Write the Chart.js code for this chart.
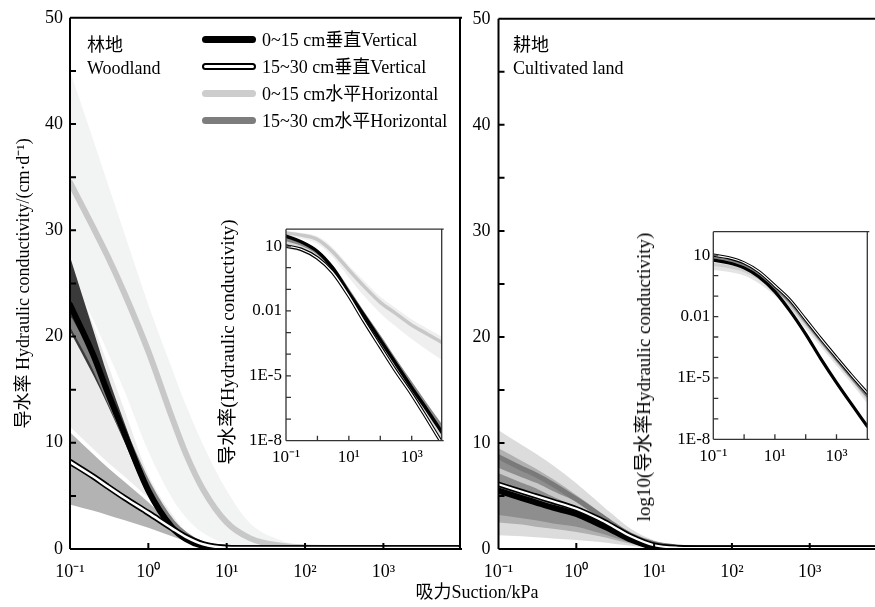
<!DOCTYPE html>
<html><head><meta charset="utf-8">
<script src="https://cdn.jsdelivr.net/npm/chart.js@4.4.1/dist/chart.umd.min.js"></script>
<style>
html,body{margin:0;padding:0;background:#fff;}
body{width:875px;height:607px;position:relative;overflow:hidden;font-family:'Liberation Serif','Times New Roman','Noto Sans CJK SC',serif;color:#000;}
canvas{position:absolute;}
.t{position:absolute;font-size:18px;white-space:nowrap;line-height:23.5px;}
.lg{position:absolute;left:202px;width:54px;height:7px;border-radius:4px;box-sizing:border-box;}
.lt{position:absolute;left:262px;font-size:18px;white-space:nowrap;line-height:20px;}
.rot{position:absolute;white-space:nowrap;font-size:19px;line-height:20px;transform:translate(-50%,-50%) rotate(-90deg);}
</style></head>
<body>
<canvas id="mainL" width="470" height="607" style="left:0;top:0"></canvas>
<canvas id="mainR" width="413" height="607" style="left:462px;top:0"></canvas>
<canvas id="insL" width="210" height="255" style="left:240px;top:215px"></canvas>
<canvas id="insR" width="210" height="255" style="left:665px;top:218px"></canvas>

<div class="t" style="left:87px;top:33.5px">林地<br>Woodland</div>
<div class="t" style="left:513px;top:33.5px">耕地<br>Cultivated land</div>

<div class="lg" style="top:36px;background:#000"></div>
<div class="lt" style="top:29.5px">0~15 cm垂直Vertical</div>
<div class="lg" style="top:63px;background:#fff;border:2px solid #000"></div>
<div class="lt" style="top:56.5px">15~30 cm垂直Vertical</div>
<div class="lg" style="top:90px;background:#cdcdcd"></div>
<div class="lt" style="top:83.5px">0~15 cm水平Horizontal</div>
<div class="lg" style="top:117px;background:#7d7d7d"></div>
<div class="lt" style="top:110.5px">15~30 cm水平Horizontal</div>

<div class="t" style="left:477px;top:593px;transform:translate(-50%,-50%)">吸力Suction/kPa</div>
<div class="rot" style="left:228px;top:342px">导水率(Hydraulic conductivity)</div>
<div class="rot" style="left:644px;top:377px">log10(导水率Hydraulic conductivity)</div>

<script>
// ---------- data ----------
const suction = [0.1, 0.2, 0.3, 0.5, 1, 2, 3, 5, 10, 20, 50, 100, 1000, 9000];

// Woodland main panel (cm/d)
const woodV015   = [23, 18.2, 14.8, 10.8, 5.5, 2.05, 0.95, 0.28, 0.1, 0.08, 0.08, 0.08, 0.08, 0.08];
const woodV1530  = [8.2, 6.8, 5.9, 4.8, 3.4, 1.95, 1.15, 0.45, 0.12, 0.08, 0.08, 0.08, 0.08, 0.08];
const woodH015   = [34.5, 30.2, 27.6, 24.0, 18.6, 12.4, 9.0, 5.6, 2.5, 1.0, 0.3, 0.15, 0.08, 0.08];
const woodH1530  = [21.5, 17.4, 14.5, 10.8, 6.0, 2.5, 1.3, 0.42, 0.12, 0.08, 0.08, 0.08, 0.08, 0.08];
const woodV015Hi = [27.5, 20.5, 16.4, 11.8, 6.0, 2.3, 1.1, 0.35, 0.12, 0.08, 0.08, 0.08, 0.08, 0.08];
const woodV015Lo = [20.5, 16.3, 13.6, 10.0, 5.0, 1.8, 0.82, 0.22, 0.08, 0.08, 0.08, 0.08, 0.08, 0.08];
const woodH015Hi = [45, 38.4, 34.5, 29.6, 23.0, 17.0, 13.6, 9.8, 5.5, 2.4, 0.8, 0.3, 0.08, 0.08];
const woodH015Lo = [26, 21.5, 18.6, 14.8, 9.2, 4.8, 3.0, 1.5, 0.5, 0.18, 0.08, 0.08, 0.08, 0.08];
const woodH1530Hi = [27, 21, 17.5, 13, 7, 3.3, 1.7, 0.65, 0.16, 0.08, 0.08, 0.08, 0.08, 0.08];
const woodH1530Lo = [11.5, 9.4, 8.2, 6.8, 4.8, 2.6, 1.55, 0.6, 0.15, 0.08, 0.08, 0.08, 0.08, 0.08];
const woodV1530Hi = [11, 8.9, 7.7, 6.3, 4.4, 2.3, 1.3, 0.5, 0.14, 0.08, 0.08, 0.08, 0.08, 0.08];
const woodV1530Lo = [4.2, 3.6, 3.2, 2.7, 2.0, 1.2, 0.75, 0.3, 0.08, 0.08, 0.08, 0.08, 0.08, 0.08];

// Cultivated land main panel (cm/d)
const cultV015   = [5.5, 4.8, 4.4, 3.9, 3.3, 2.3, 1.7, 0.9, 0.2, 0.1, 0.08, 0.08, 0.08, 0.08];
const cultV1530  = [6.1, 5.4, 5.0, 4.5, 3.8, 2.8, 2.1, 1.2, 0.35, 0.12, 0.08, 0.08, 0.08, 0.08];
const cultH015   = [7.4, 6.5, 6.0, 5.2, 4.2, 3.0, 2.2, 1.3, 0.45, 0.15, 0.08, 0.08, 0.08, 0.08];
const cultH1530  = [8.7, 7.6, 7.0, 6.1, 4.7, 3.2, 2.3, 1.3, 0.5, 0.18, 0.08, 0.08, 0.08, 0.08];
const cultOuterHi = [11.2, 9.8, 9.0, 7.9, 6.2, 4.3, 3.2, 1.9, 0.8, 0.3, 0.1, 0.08, 0.08, 0.08];
const cultOuterLo = [1.3, 1.2, 1.1, 1.0, 0.85, 0.65, 0.5, 0.3, 0.1, 0.08, 0.08, 0.08, 0.08, 0.08];
const cultMidHi   = [9.5, 8.3, 7.6, 6.6, 5.1, 3.5, 2.5, 1.4, 0.55, 0.2, 0.08, 0.08, 0.08, 0.08];
const cultMidLo   = [2.5, 2.3, 2.1, 1.9, 1.6, 1.2, 0.9, 0.5, 0.15, 0.08, 0.08, 0.08, 0.08, 0.08];
const cultInnerHi = [8.5, 7.4, 6.8, 5.9, 4.7, 3.3, 2.4, 1.35, 0.45, 0.15, 0.08, 0.08, 0.08, 0.08];
const cultInnerLo = [3.2, 2.9, 2.7, 2.4, 2.1, 1.5, 1.1, 0.6, 0.15, 0.08, 0.08, 0.08, 0.08, 0.08];

// Insets (log-log)
const suctionIns = [0.1, 0.3, 1, 3, 10, 30, 100, 300, 1000, 3000, 10000];
const insWoodV015  = [28.8, 15.8, 5.6, 1.0, 0.068, 0.0063, 4.5e-4, 4e-5, 2.8e-6, 2.8e-7, 2e-8];
const insWoodV1530 = [10, 7.1, 2.8, 0.63, 0.05, 0.0035, 2.2e-4, 1.8e-5, 1.4e-6, 1.1e-7, 6.3e-9];
const insWoodH015  = [40, 32, 20, 5.6, 0.79, 0.14, 0.025, 0.0079, 0.0022, 0.00089, 0.00032];
const insWoodH1530 = [20, 12.6, 5.0, 1.0, 0.079, 0.0071, 5.6e-4, 5e-5, 4e-6, 4e-7, 3.5e-8];
const insWoodH015Hi = [50, 41, 28.2, 8.9, 1.26, 0.25, 0.045, 0.014, 0.004, 0.0016, 0.0006];
const insWoodH015Lo = [28.2, 22.4, 12.6, 3.16, 0.355, 0.05, 0.0079, 0.002, 5e-4, 1.6e-4, 5e-5];
const insWoodVHi = [32, 18, 6.5, 1.2, 0.085, 0.008, 6e-4, 5.5e-5, 4e-6, 4e-7, 3.5e-8];
const insWoodVLo = [7.5, 5.5, 2.2, 0.5, 0.04, 0.0028, 1.8e-4, 1.5e-5, 1.2e-6, 9e-8, 5e-9];

const insCultV015  = [5.75, 4.27, 2.4, 0.89, 0.166, 0.02, 1.38e-3, 9.3e-5, 5.9e-6, 5.5e-7, 4.3e-8];
const insCultV1530 = [10, 7.6, 4.2, 1.58, 0.32, 0.068, 7.1e-3, 8.9e-4, 1e-4, 1.4e-5, 1.8e-6];
const insCultH1530 = [8.3, 6.3, 3.5, 1.32, 0.26, 0.054, 5.6e-3, 7.1e-4, 7.9e-5, 1.1e-5, 1.3e-6];
const insCultH015  = [3.5, 2.8, 1.78, 0.76, 0.19, 0.038, 4.5e-3, 6.3e-4, 7.1e-5, 1e-5, 1.0e-6];
const insCultH015Hi = [6.3, 5.0, 3.2, 1.37, 0.34, 0.068, 8.1e-3, 1.1e-3, 1.28e-4, 1.8e-5, 1.8e-6];
const insCultH015Lo = [1.9, 1.55, 1.0, 0.42, 0.105, 0.021, 2.5e-3, 3.5e-4, 3.9e-5, 5.6e-6, 5.6e-7];
const insCultH1530Hi = [10.8, 8.2, 4.55, 1.7, 0.34, 0.07, 7.3e-3, 9.2e-4, 1.03e-4, 1.43e-5, 1.7e-6];
const insCultH1530Lo = [6.4, 4.85, 2.7, 1.0, 0.2, 0.042, 4.3e-3, 5.5e-4, 6.1e-5, 8.5e-6, 1.0e-6];

// Tick labels
const mainXTicks  = [0.1, 1, 10, 100, 1000];
const mainXLabels = ['10⁻¹', '10⁰', '10¹', '10²', '10³'];
const mainYLabels = ['0', '10', '20', '30', '40', '50'];
const insXTicks  = [0.1, 1, 10, 100, 1000];
const insXLabels = ['10⁻¹', '', '10¹', '', '10³'];
const insYTicks  = [1e-8, 1e-7, 1e-6, 1e-5, 1e-4, 1e-3, 0.01, 0.1, 1, 10];
const insYLabels = ['1E-8', '', '', '1E-5', '', '', '0.01', '', '', '10'];
const yTitle = '导水率 Hydraulic conductivity/(cm·d⁻¹)';

// ---------- helpers ----------
const FONT = "'Liberation Serif','Times New Roman','Noto Sans CJK SC',serif";
Chart.defaults.font.family = FONT;
Chart.defaults.color = '#000';

function pts(xs, ys) { return xs.map((x, i) => ({x: x, y: ys[i]})); }
function line(xs, ys, color, w) {
  return {data: pts(xs, ys), borderColor: color, backgroundColor: color, borderWidth: w,
    pointRadius: 0, fill: false, cubicInterpolationMode: 'monotone', borderCapStyle: 'round', borderJoinStyle: 'round'};
}
function band(xs, hi, lo, color) {
  return [
    {data: pts(xs, lo), borderWidth: 0, borderColor: 'rgba(0,0,0,0)', pointRadius: 0, fill: false, cubicInterpolationMode: 'monotone'},
    {data: pts(xs, hi), borderWidth: 0, borderColor: 'rgba(0,0,0,0)', backgroundColor: color, pointRadius: 0, fill: '-1', cubicInterpolationMode: 'monotone'}
  ];
}
function ordered(list) { list.forEach((d, i) => { d.order = 1000 - i; }); return list; }

const frame = {
  id: 'frame',
  afterDatasetsDraw(chart, args, o) {
    const ctx = chart.ctx, a = chart.chartArea, xs = chart.scales.x, ys = chart.scales.y;
    ctx.save();
    ctx.strokeStyle = o.color; ctx.lineWidth = o.tickWidth; ctx.beginPath();
    xs.ticks.forEach(t => { const p = xs.getPixelForValue(t.value);
      if (p > a.left + 2 && p < a.right - 2) { ctx.moveTo(p, a.bottom); ctx.lineTo(p, a.bottom - o.len); } });
    ys.ticks.forEach(t => { const p = ys.getPixelForValue(t.value);
      if (p > a.top + 2 && p < a.bottom - 2) { ctx.moveTo(a.left, p); ctx.lineTo(a.left + o.len, p); } });
    ctx.stroke();
    ctx.lineWidth = o.width; ctx.beginPath();
    const s = o.sides;
    if (s.includes('l')) { ctx.moveTo(a.left, a.top); ctx.lineTo(a.left, a.bottom); }
    if (s.includes('b')) { ctx.moveTo(a.left, a.bottom); ctx.lineTo(a.right + 2, a.bottom); }
    if (s.includes('t')) { ctx.moveTo(a.left, a.top); ctx.lineTo(a.right + 2, a.top); }
    if (s.includes('r')) { ctx.moveTo(a.right, a.top); ctx.lineTo(a.right, a.bottom); }
    ctx.stroke();
    ctx.restore();
  }
};

function mainOptions(xmax, yWidth, yPad, sides, withTitle, padRight) {
  return {
    responsive: false, animation: false, events: [],
    layout: {padding: {left: 0, top: 17, right: padRight, bottom: 18}},
    plugins: {legend: {display: false}, tooltip: {enabled: false},
      frame: {color: '#000', tickWidth: 2, len: 6, width: 2, sides: sides}},
    scales: {
      x: {type: 'logarithmic', min: 0.1, max: xmax,
        afterBuildTicks: s => { s.ticks = mainXTicks.map(v => ({value: v})); },
        afterFit: s => { s.height = 40; },
        grid: {display: false, drawTicks: false}, border: {display: false},
        ticks: {autoSkip: false, maxRotation: 0, padding: 12, font: {size: 18, family: FONT}, color: '#000',
          callback: (v, i) => mainXLabels[i]}},
      y: {type: 'linear', min: 0, max: 50,
        afterFit: s => { s.width = yWidth; },
        grid: {display: false, drawTicks: false}, border: {display: false},
        ticks: {stepSize: 5, padding: yPad, font: {size: 18, family: FONT}, color: '#000',
          callback: v => (v % 10 === 0 ? mainYLabels[v / 10] : '')},
        title: {display: withTitle, text: yTitle, font: {size: 18, family: FONT}, color: '#000', padding: {top: 13, bottom: 0}}}
    }
  };
}

function insetOptions(ymax, yWidth, pad, yPad) {
  return {
    responsive: false, animation: false, events: [],
    layout: {padding: pad},
    plugins: {legend: {display: false}, tooltip: {enabled: false},
      frame: {color: '#333', tickWidth: 1.3, len: 5, width: 1.3, sides: 'lbtr'}},
    scales: {
      x: {type: 'logarithmic', min: 0.1, max: 9000,
        afterBuildTicks: s => { s.ticks = insXTicks.map(v => ({value: v})); },
        afterFit: s => { s.height = 25; },
        grid: {display: false, drawTicks: false}, border: {display: false},
        ticks: {autoSkip: false, maxRotation: 0, padding: 7, font: {size: 17, family: FONT}, color: '#000',
          callback: (v, i) => insXLabels[i]}},
      y: {type: 'logarithmic', min: 1e-8, max: ymax,
        afterBuildTicks: s => { s.ticks = insYTicks.map(v => ({value: v})); },
        afterFit: s => { s.width = yWidth; },
        grid: {display: false, drawTicks: false}, border: {display: false},
        ticks: {autoSkip: false, padding: yPad, font: {size: 17, family: FONT}, color: '#000',
          callback: (v, i) => insYLabels[i]}}
    }
  };
}

// ---------- Woodland main ----------
new Chart(document.getElementById('mainL'), {
  type: 'line',
  data: {datasets: ordered([
    ...band(suction, woodH015Hi, woodH015Lo, '#f2f3f3'),
    ...band(suction, woodH1530Hi, woodH1530Lo, '#ececec'),
    ...band(suction, woodV1530Hi, woodV1530Lo, '#b3b3b3'),
    ...band(suction, woodV015Hi, woodV015Lo, '#3a3a3a'),
    line(suction, woodH015, '#c8c8c8', 6),
    line(suction, woodH1530, '#7f7f7f', 6),
    line(suction, woodV015, '#000000', 6),
    line(suction, woodV1530, '#000000', 6),
    line(suction, woodV1530, '#ffffff', 2.6)
  ])},
  options: mainOptions(9500, 70, 7, 'lbtr', true, 10),
  plugins: [frame]
});

// ---------- Cultivated main ----------
new Chart(document.getElementById('mainR'), {
  type: 'line',
  data: {datasets: ordered([
    ...band(suction, cultOuterHi, cultOuterLo, '#dcdcdc'),
    ...band(suction, cultMidHi, cultMidLo, '#b0b0b0'),
    ...band(suction, cultInnerHi, cultInnerLo, '#8e8e8e'),
    line(suction, cultH015, '#c8c8c8', 5),
    line(suction, cultH1530, '#7a7a7a', 5),
    line(suction, cultV015, '#000000', 6),
    line(suction, cultV1530, '#000000', 5.5),
    line(suction, cultV1530, '#ffffff', 2.2)
  ])},
  options: mainOptions(6900, 36.5, 8, 'lbt', false, 0),
  plugins: [frame]
});

// ---------- Woodland inset ----------
new Chart(document.getElementById('insL'), {
  type: 'line',
  data: {datasets: ordered([
    ...band(suctionIns, insWoodH015Hi, insWoodH015Lo, '#efefef'),
    ...band(suctionIns, insWoodVHi, insWoodVLo, '#dadada'),
    line(suctionIns, insWoodH015, '#c8c8c8', 3.5),
    line(suctionIns, insWoodH1530, '#8a8a8a', 3.5),
    line(suctionIns, insWoodV015, '#000000', 3.5),
    line(suctionIns, insWoodV1530, '#000000', 3.5),
    line(suctionIns, insWoodV1530, '#ffffff', 1.3)
  ])},
  options: insetOptions(60, 46, {left: 0, top: 13.3, right: 8.3, bottom: 4.3}, 4),
  plugins: [frame]
});

// ---------- Cultivated inset ----------
new Chart(document.getElementById('insR'), {
  type: 'line',
  data: {datasets: ordered([
    ...band(suctionIns, insCultH015Hi, insCultH015Lo, '#e4e4e4'),
    ...band(suctionIns, insCultH1530Hi, insCultH1530Lo, '#a8a8a8'),
    line(suctionIns, insCultH015, '#cfcfcf', 3),
    line(suctionIns, insCultH1530, '#7f7f7f', 3),
    line(suctionIns, insCultV1530, '#000000', 3.2),
    line(suctionIns, insCultV1530, '#ffffff', 1.1),
    line(suctionIns, insCultV015, '#000000', 3.2)
  ])},
  options: (function () { const o = insetOptions(140, 48.3, {left: 0, top: 13.7, right: 7.7, bottom: 8.7}, 3); o.scales.x.max = 10000; return o; })(),
  plugins: [frame]
});
</script>
</body></html>
